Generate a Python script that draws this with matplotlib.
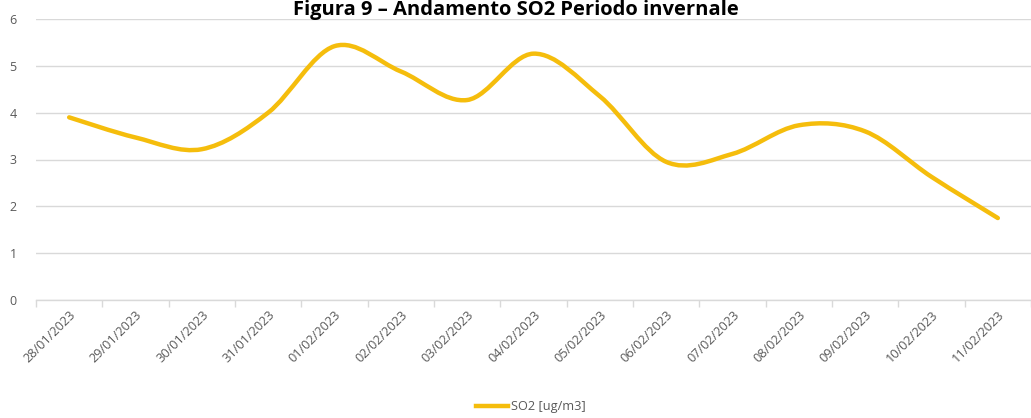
import numpy as np
import matplotlib.pyplot as plt
from matplotlib.path import Path
from matplotlib.patches import PathPatch
from matplotlib.lines import Line2D

plt.rcParams['font.family'] = ['Open Sans', 'DejaVu Sans']

# Data
dates = ['28/01/2023', '29/01/2023', '30/01/2023', '31/01/2023', '01/02/2023',
         '02/02/2023', '03/02/2023', '04/02/2023', '05/02/2023', '06/02/2023',
         '07/02/2023', '08/02/2023', '09/02/2023', '10/02/2023', '11/02/2023']
so2 = [3.9, 3.47, 3.22, 4.0, 5.42, 4.88, 4.27, 5.26, 4.35, 2.95,
       3.12, 3.73, 3.6, 2.63, 1.75]

color = '#F5BD0C'
grey = '#d9d9d9'
txt = '#595959'


def smooth_path(x, y):
    # Excel-like smoothed line: cubic bezier through every point
    n = len(x)
    pts = np.column_stack([x, y])
    verts = [pts[0]]
    codes = [Path.MOVETO]
    for i in range(n - 1):
        p0 = pts[i - 1] if i > 0 else pts[i]
        p1 = pts[i]
        p2 = pts[i + 1]
        p3 = pts[i + 2] if i + 2 < n else pts[i + 1]
        c1 = p1 + (p2 - p0) / 6
        c2 = p2 - (p3 - p1) / 6
        verts += [c1, c2, p2]
        codes += [Path.CURVE4] * 3
    return Path(verts, codes)


fig = plt.figure(figsize=(10.31, 4.18), dpi=100)
ax = fig.add_axes([36 / 1031, 1 - 300 / 418, 1 - 36 / 1031, 281 / 418])

xs = np.arange(len(dates))
patch = PathPatch(smooth_path(xs, so2), facecolor='none', edgecolor=color,
                  lw=3.2, capstyle='round')
ax.add_patch(patch)

ax.set_xlim(-0.5, len(dates) - 0.5)
ax.set_ylim(0, 6)
ax.set_yticks(range(7))
ax.yaxis.grid(True, color=grey, lw=1)
ax.set_axisbelow(True)

for s in ['top', 'right', 'left']:
    ax.spines[s].set_visible(False)
ax.spines['bottom'].set_color(grey)
ax.spines['bottom'].set_linewidth(1)

ax.set_xticks(xs)
ax.set_xticklabels(dates, rotation=45, ha='right', rotation_mode='anchor',
                   fontsize=9.2, color=txt)
ax.set_xticks(np.arange(len(dates) + 1) - 0.5, minor=True)
ax.tick_params(axis='x', which='major', length=0, pad=6)
ax.tick_params(axis='x', which='minor', length=5, color=grey, width=1)
ax.tick_params(axis='y', length=0, labelsize=9, labelcolor=txt, pad=14)

fig.text(0.5, 1 - 15 / 418, 'Figura 9 – Andamento SO2 Periodo invernale',
         ha='center', va='baseline', fontsize=14.5, fontweight='bold')

handle = Line2D([], [], color=color, lw=3.2)
fig.legend([handle], ['SO2 [ug/m3]'], loc='center', bbox_to_anchor=(0.515, 0.027),
           frameon=False, fontsize=9.2, labelcolor=txt, handlelength=2.5,
           handletextpad=0.2)

fig.savefig('out.png', dpi=100)
